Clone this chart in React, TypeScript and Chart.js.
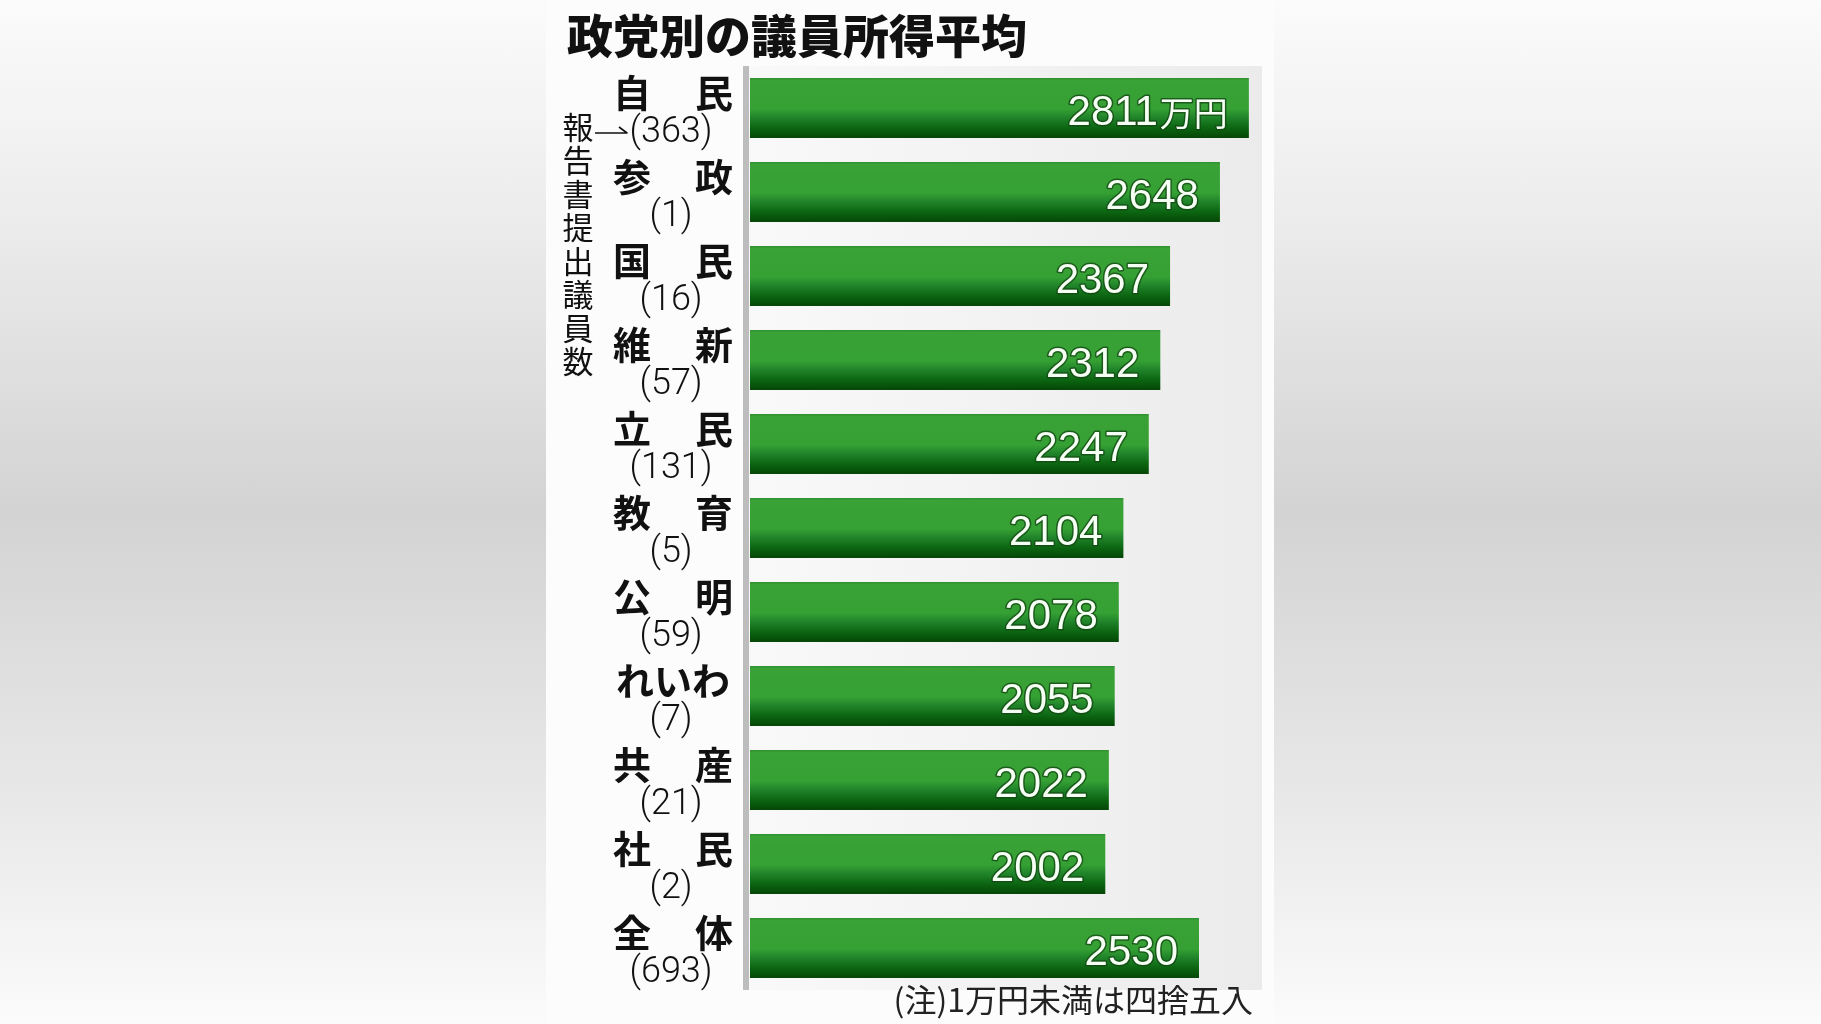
import { useEffect, useRef } from 'react';
import { Chart, ChartConfiguration, Plugin, registerables } from 'chart.js';

Chart.register(...registerables);

// data
const parties = ['自民', '参政', '国民', '維新', '立民', '教育', '公明', 'れいわ', '共産', '社民', '全体'];
const memberCounts = [363, 1, 16, 57, 131, 5, 59, 7, 21, 2, 693];
const averageIncome = [2811, 2648, 2367, 2312, 2247, 2104, 2078, 2055, 2022, 2002, 2530];

const TITLE = '政党別の議員所得平均';
const SIDE_NOTE = '報告書提出議員数';
const FOOTNOTE = '(注)1万円未満は四捨五入';
const UNIT = '万円';

const JP = '"Noto Sans CJK JP", "Noto Sans", sans-serif';
const NUM = '"Liberation Sans", Arial, sans-serif';

const BAR_HALF = 30;

const barFill = (ctx: any) => {
  const chart = ctx.chart;
  const yScale = chart.scales?.y;
  if (!yScale || ctx.dataIndex == null) return '#35a033';
  const yc = yScale.getPixelForValue(ctx.dataIndex);
  if (!Number.isFinite(yc)) return '#35a033';
  const g = chart.ctx.createLinearGradient(0, yc - BAR_HALF, 0, yc + BAR_HALF);
  g.addColorStop(0, '#2f8f2f');
  g.addColorStop(0.04, '#3aa237');
  g.addColorStop(0.52, '#35a033');
  g.addColorStop(0.66, '#20842a');
  g.addColorStop(0.85, '#0a620f');
  g.addColorStop(1, '#054607');
  return g;
};

const decorations: Plugin<'bar'> = {
  id: 'decorations',
  beforeDatasetsDraw(chart) {
    const { ctx, chartArea } = chart;
    const { left, right, top, bottom } = chartArea;
    ctx.save();
    const bg = ctx.createLinearGradient(left, 0, right, 0);
    bg.addColorStop(0, '#f9f9f9');
    bg.addColorStop(1, '#ebebeb');
    ctx.fillStyle = bg;
    ctx.fillRect(left - 6, top, right - left + 6, bottom - top);
    // axis line
    ctx.fillStyle = '#bdbdbd';
    ctx.fillRect(left - 7, top, 6, bottom - top);
    ctx.restore();
  },
  afterDatasetsDraw(chart) {
    const { ctx } = chart;
    const meta = chart.getDatasetMeta(0);
    const yScale = chart.scales.y;
    ctx.save();

    // values inside bars
    meta.data.forEach((bar: any, i) => {
      const xEnd = bar.x - 21;
      const y = bar.y + 5;
      ctx.textBaseline = 'middle';
      ctx.textAlign = 'right';
      ctx.lineJoin = 'round';
      ctx.strokeStyle = 'rgba(20, 70, 20, 0.75)';
      ctx.lineWidth = 3;
      ctx.fillStyle = '#f6fff4';
      let numEnd = xEnd;
      if (i === 0) {
        ctx.font = `34px ${JP}`;
        const w = ctx.measureText(UNIT).width;
        ctx.strokeText(UNIT, xEnd, y);
        ctx.fillText(UNIT, xEnd, y);
        numEnd = xEnd - w - 2;
      }
      ctx.font = `42px ${NUM}`;
      const txt = String(averageIncome[i]);
      ctx.strokeText(txt, numEnd, y);
      ctx.fillText(txt, numEnd, y);
    });

    // party names and member counts
    ctx.fillStyle = '#111';
    parties.forEach((name, i) => {
      const yc = yScale.getPixelForValue(i);
      ctx.font = `bold 38px ${JP}`;
      ctx.textBaseline = 'middle';
      const ny = yc - 15;
      if (name.length === 2) {
        ctx.textAlign = 'left';
        ctx.fillText(name[0], 613, ny);
        ctx.textAlign = 'right';
        ctx.fillText(name[1], 733, ny);
      } else {
        ctx.textAlign = 'center';
        ctx.fillText(name, 673, ny);
      }
      ctx.font = `300 36px Roboto, ${NUM}`;
      ctx.textAlign = 'center';
      ctx.fillText(`(${memberCounts[i]})`, 671, yc + 25);
    });

    // vertical side note
    ctx.font = `31px ${JP}`;
    ctx.textAlign = 'center';
    ctx.textBaseline = 'middle';
    [...SIDE_NOTE].forEach((ch, k) => {
      ctx.fillText(ch, 578, 127 + k * 33.5);
    });

    // arrow pointing to the first count
    ctx.strokeStyle = '#111';
    ctx.lineWidth = 1.6;
    ctx.beginPath();
    ctx.moveTo(595, 133);
    ctx.lineTo(627, 133);
    ctx.lineTo(619, 127);
    ctx.stroke();

    // title
    ctx.font = `900 46px ${JP}`;
    ctx.textAlign = 'left';
    ctx.fillStyle = '#111';
    ctx.fillText(TITLE, 567, 36);

    // footnote
    ctx.font = `32px ${JP}`;
    ctx.textAlign = 'right';
    ctx.fillStyle = '#222';
    ctx.fillText(FOOTNOTE, 1253, 1000);

    ctx.restore();
  },
};

const config: ChartConfiguration<'bar'> = {
  type: 'bar',
  data: {
    labels: parties,
    datasets: [
      {
        data: averageIncome,
        backgroundColor: barFill,
        borderWidth: 0,
        barPercentage: 0.715,
        categoryPercentage: 1,
      },
    ],
  },
  options: {
    indexAxis: 'y',
    animation: false,
    responsive: false,
    devicePixelRatio: 1,
    events: [],
    layout: {
      padding: { left: 750, right: 559, top: 66, bottom: 34 },
    },
    scales: {
      x: { display: false, min: 0, max: 2885 },
      y: { display: false },
    },
    plugins: {
      legend: { display: false },
      tooltip: { enabled: false },
      title: { display: false },
    },
  },
  plugins: [decorations],
};

const App = () => {
  const canvasRef = useRef<HTMLCanvasElement>(null);

  useEffect(() => {
    const chart = new Chart(canvasRef.current as HTMLCanvasElement, config);
    return () => {
      chart.destroy();
    };
  }, []);

  return (
    <div
      style={{
        position: 'fixed',
        left: 0,
        top: 0,
        width: 1821,
        height: 1024,
        background:
          'linear-gradient(to bottom, #fbfbfb 0%, #ededed 20%, #d3d3d3 50%, #e8e8e8 78%, #fbfbfb 100%)',
      }}
    >
      <div
        style={{
          position: 'absolute',
          left: 546,
          top: 0,
          width: 728,
          height: 1024,
          background: '#fcfcfc',
        }}
      />
      <canvas
        ref={canvasRef}
        width={1821}
        height={1024}
        style={{ position: 'absolute', left: 0, top: 0 }}
      />
    </div>
  );
};

export default App;
